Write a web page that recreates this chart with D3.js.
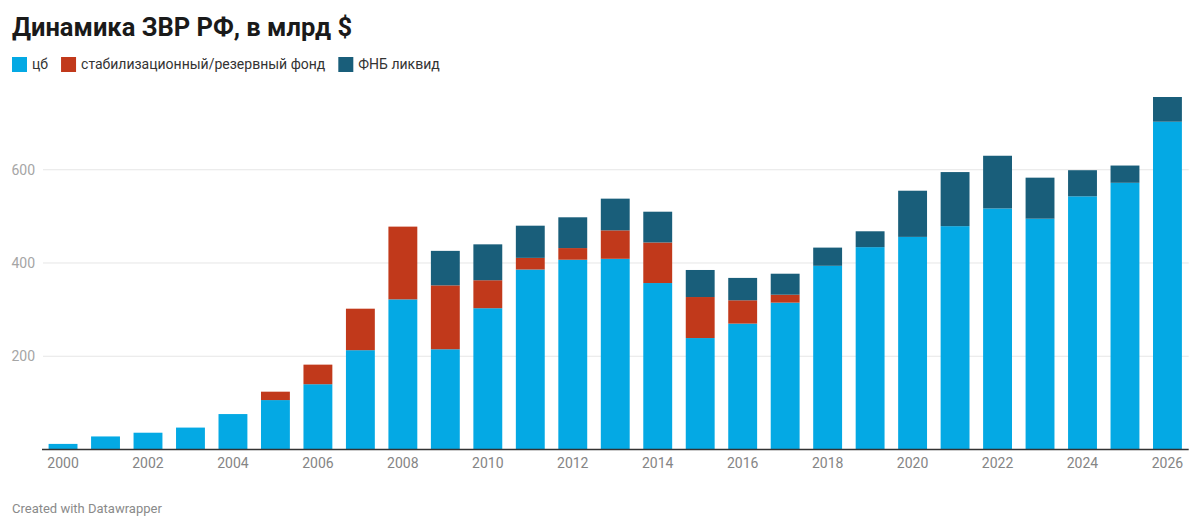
<!DOCTYPE html>
<html>
<head>
<meta charset="utf-8">
<script src="https://cdn.jsdelivr.net/npm/d3@7"></script>
<style>
  body { margin: 0; background: #fff; font-family: Roboto, "Noto Sans", sans-serif; }
</style>
</head>
<body>
<div id="chart"></div>
<script>
// values, bln $
const years = [2000, 2001, 2002, 2003, 2004, 2005, 2006, 2007, 2008, 2009, 2010, 2011, 2012, 2013,
               2014, 2015, 2016, 2017, 2018, 2019, 2020, 2021, 2022, 2023, 2024, 2025, 2026];
const cb   = [12, 28, 36, 47, 76, 106, 140, 213, 322, 215, 303, 386, 407, 409,
              357, 239, 270, 315, 394, 434, 456, 479, 517, 495, 543, 572, 703];
const stab = [0, 0, 0, 0, 0, 18, 42, 89, 156, 137, 60, 25, 25, 61,
              87, 88, 50, 17, 0, 0, 0, 0, 0, 0, 0, 0, 0];
const fnb  = [0, 0, 0, 0, 0, 0, 0, 0, 0, 74, 77, 69, 66, 68,
              66, 58, 48, 45, 39, 34, 99, 116, 113, 88, 56, 37, 53];
const yTicks = [200, 400, 600];
const xLabels = years.filter(function (y) { return y % 2 === 0; });

const keys = ["cb", "stab", "fnb"];
const names = { cb: "цб", stab: "стабилизационный/резервный фонд", fnb: "ФНБ ликвид" };
const colors = { cb: "#04a9e4", stab: "#c1391b", fnb: "#195e7a" };

const W = 1200, H = 528;
const plotBottom = 449.5, plotTop = 97;
const plotLeft = 41.8, plotRight = 1188.7;

const rows = years.map(function (y, i) {
  return { year: y, cb: cb[i], stab: stab[i], fnb: fnb[i] };
});
const series = d3.stack().keys(keys)(rows);
const maxTotal = d3.max(rows, function (d) { return d.cb + d.stab + d.fnb; });

const svg = d3.select("#chart").append("svg")
  .attr("width", W)
  .attr("height", H);

const x = d3.scaleBand()
  .domain(years)
  .range([plotLeft, plotRight])
  .paddingInner(0.32)
  .paddingOuter(0.16);

const y = d3.scaleLinear()
  .domain([0, maxTotal])
  .range([plotBottom, plotTop]);

// title
svg.append("text")
  .attr("x", 12)
  .attr("y", 36)
  .style("font-size", "25.5px")
  .style("font-weight", "700")
  .attr("fill", "#1a1a1a")
  .text("Динамика ЗВР РФ, в млрд $");

// legend
let lx = 12;
keys.forEach(function (k) {
  svg.append("rect")
    .attr("x", lx)
    .attr("y", 57)
    .attr("width", 15)
    .attr("height", 15)
    .attr("fill", colors[k]);
  const t = svg.append("text")
    .attr("x", lx + 20)
    .attr("y", 69)
    .style("font-size", "14px")
    .attr("fill", "#333")
    .text(names[k]);
  lx += 20 + t.node().getComputedTextLength() + 13;
});

// grid
svg.append("g")
  .selectAll("line")
  .data(yTicks)
  .enter()
  .append("line")
  .attr("x1", 43)
  .attr("x2", plotRight)
  .attr("y1", function (d) { return y(d); })
  .attr("y2", function (d) { return y(d); })
  .attr("stroke", "#e6e6e6")
  .attr("stroke-width", 1);

svg.append("g")
  .selectAll("text")
  .data(yTicks)
  .enter()
  .append("text")
  .attr("x", 35)
  .attr("y", function (d) { return y(d); })
  .attr("dy", "0.35em")
  .style("text-anchor", "end")
  .style("font-size", "14px")
  .attr("fill", "#a5a5a5")
  .text(function (d) { return d; });

// bars
svg.append("g")
  .selectAll("g")
  .data(series)
  .enter()
  .append("g")
  .attr("fill", function (s) { return colors[s.key]; })
  .selectAll("rect")
  .data(function (s) { return s; })
  .enter()
  .append("rect")
  .attr("x", function (d) { return x(d.data.year); })
  .attr("y", function (d) { return y(d[1]); })
  .attr("width", x.bandwidth())
  .attr("height", function (d) { return y(d[0]) - y(d[1]); });

// baseline
svg.append("line")
  .attr("x1", 42)
  .attr("x2", plotRight)
  .attr("y1", plotBottom)
  .attr("y2", plotBottom)
  .attr("stroke", "#333")
  .attr("stroke-width", 1.3);

// x labels
svg.append("g")
  .selectAll("text")
  .data(xLabels)
  .enter()
  .append("text")
  .attr("x", function (d) { return x(d) + x.bandwidth() / 2; })
  .attr("y", 468)
  .style("text-anchor", "middle")
  .style("font-size", "14px")
  .attr("fill", "#858585")
  .text(function (d) { return d; });

// footer
svg.append("text")
  .attr("x", 12)
  .attr("y", 513)
  .style("font-size", "13px")
  .attr("fill", "#8a8a8a")
  .text("Created with Datawrapper");
</script>
</body>
</html>
